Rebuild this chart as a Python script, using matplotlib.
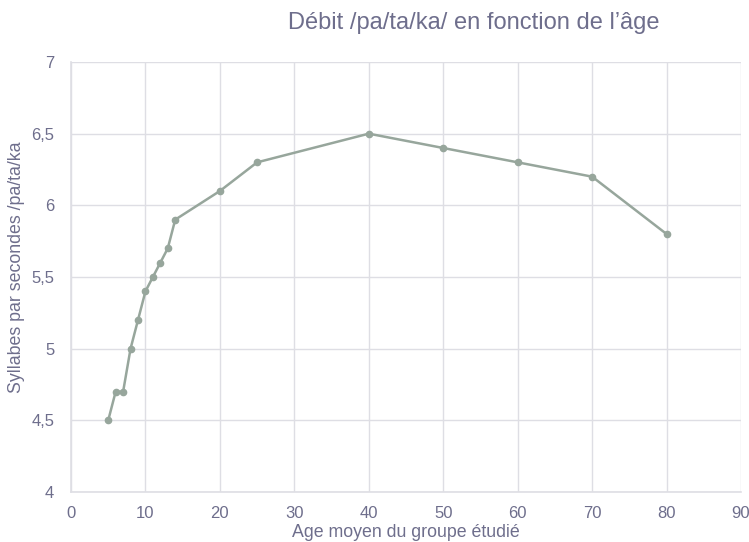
import matplotlib
matplotlib.use("Agg")
import matplotlib.pyplot as plt
from matplotlib.ticker import FuncFormatter

ages = [5, 6, 7, 8, 9, 10, 11, 12, 13, 14, 20, 25, 40, 50, 60, 70, 80]
rates = [4.5, 4.7, 4.7, 5.0, 5.2, 5.4, 5.5, 5.6, 5.7, 5.9, 6.1, 6.3, 6.5, 6.4, 6.3, 6.2, 5.8]
x_ticks = [0, 10, 20, 30, 40, 50, 60, 70, 80, 90]
y_ticks = [4, 4.5, 5, 5.5, 6, 6.5, 7]

title = "Débit /pa/ta/ka/ en fonction de l’âge"
xlabel = "Age moyen du groupe étudié"
ylabel = "Syllabes par secondes /pa/ta/ka"

plt.rcParams['font.family'] = ['Liberation Sans', 'DejaVu Sans']
txt = "#6E6E8C"
grid = "#DEDEE4"
line = "#97A69C"

fig = plt.figure(figsize=(7.49, 5.42), dpi=100)
ax = fig.add_axes([0.0948, 0.0923, 0.8945, 0.7933])
ax.plot(ages, rates, color=line, lw=1.8, marker='o', ms=4.5, zorder=3)
ax.set_xlim(0, 90)
ax.set_ylim(4, 7)
ax.set_xticks(x_ticks)
ax.set_yticks(y_ticks)
ax.yaxis.set_major_formatter(FuncFormatter(lambda v, p: (f"{v:g}").replace('.', ',')))
ax.grid(True, color=grid, lw=1)
ax.set_axisbelow(True)
for s in ['top', 'right']:
    ax.spines[s].set_visible(False)
for s in ['left', 'bottom']:
    ax.spines[s].set_color(grid)
    ax.spines[s].set_linewidth(1.2)
ax.tick_params(axis='x', length=0, colors=txt, labelsize=12, pad=10)
ax.tick_params(axis='y', length=0, colors=txt, labelsize=12, pad=12)
ax.set_xlabel(xlabel, color=txt, fontsize=12.8, labelpad=2)
fig.text(17 / 749, 1 - 267 / 542, ylabel, color=txt, fontsize=12.8,
         rotation=90, ha='center', va='center')
fig.text(0.632, 0.958, title, color=txt, fontsize=17, ha='center', va='center')
fig.savefig("out.png", dpi=100)
